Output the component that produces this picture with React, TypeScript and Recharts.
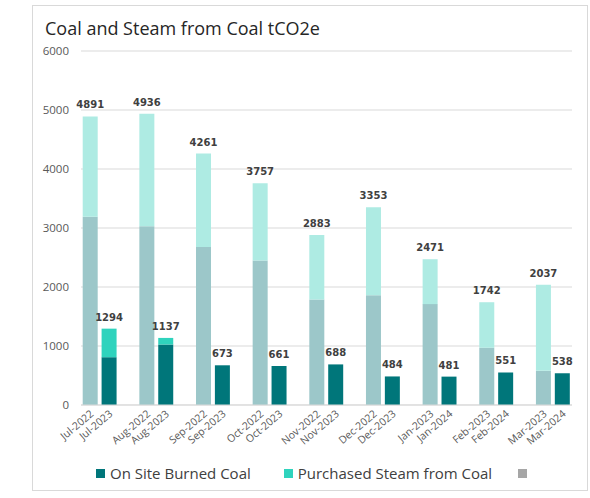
import React from 'react';
import { BarChart, Bar, XAxis, YAxis, CartesianGrid, LabelList } from 'recharts';

const priorLabels = ['Jul-2022', 'Aug-2022', 'Sep-2022', 'Oct-2022', 'Nov-2022', 'Dec-2022', 'Jan-2023', 'Feb-2023', 'Mar-2023'];
const currentLabels = ['Jul-2023', 'Aug-2023', 'Sep-2023', 'Oct-2023', 'Nov-2023', 'Dec-2023', 'Jan-2024', 'Feb-2024', 'Mar-2024'];
const priorCoal = [3190, 3030, 2680, 2450, 1790, 1860, 1710, 970, 580];
const priorTotal = [4891, 4936, 4261, 3757, 2883, 3353, 2471, 1742, 2037];
const currentCoal = [810, 1025, 673, 661, 688, 484, 481, 551, 538];
const currentTotal = [1294, 1137, 673, 661, 688, 484, 481, 551, 538];
const yTicks = [0, 1000, 2000, 3000, 4000, 5000, 6000];

const DARK = '#00767A';
const TURQ = '#2FD3BD';
const PALE_COAL = '#9CC7C9';
const PALE_STEAM = '#AEEBE3';

type Row = {
  label: string;
  priorCoal?: number;
  priorSteam?: number;
  curCoal?: number;
  curSteam?: number;
};

// one slot per bar, with an empty slot between month pairs
const rows: Row[] = [];
priorLabels.forEach((lbl, i) => {
  rows.push({ label: lbl, priorCoal: priorCoal[i], priorSteam: priorTotal[i] - priorCoal[i] });
  rows.push({ label: currentLabels[i], curCoal: currentCoal[i], curSteam: currentTotal[i] - currentCoal[i] });
  if (i < priorLabels.length - 1) rows.push({ label: '' });
});

const SlotTick = (props: any) => {
  const { x, y, payload } = props;
  if (!payload || !payload.value) return null;
  const tx = x + 4;
  const ty = y + 2;
  return (
    <text x={tx} y={ty} transform={`rotate(-40 ${tx} ${ty})`} textAnchor="end" fontSize={10.5} fill="#595959" fontFamily="Open Sans">
      {payload.value}
    </text>
  );
};

const totalText = (cx: number, top: number, value: number) => (
  <text x={cx} y={top - 8} textAnchor="middle" fontSize={10} fontWeight="bold" fill="#404040" fontFamily="DejaVu Sans">
    {value}
  </text>
);

// label list entries only cover the bars that exist in the series, so index = month
const PriorLabel = (props: any) => {
  const { x, y, width, index } = props;
  return totalText(x + width / 2, y, priorTotal[index]);
};

const CurrentLabel = (props: any) => {
  const { x, y, width, height, index } = props;
  const coal = currentCoal[index];
  const steam = currentTotal[index] - coal;
  const top = y - (coal ? (steam * height) / coal : 0);
  return totalText(x + width / 2, top, currentTotal[index]);
};

const legendItems = [
  { name: 'On Site Burned Coal', color: DARK, gap: 33 },
  { name: 'Purchased Steam from Coal', color: TURQ, gap: 26 },
  { name: '', color: '#A6A6A6', gap: 0 },
];

export default function App() {
  return (
    <div
      style={{
        position: 'absolute',
        left: 32,
        top: 5,
        width: 556,
        height: 486,
        border: '1px solid #D9D9D9',
        boxSizing: 'border-box',
        background: '#fff',
      }}
    >
      <div style={{ position: 'absolute', left: 12, top: 10, fontFamily: 'Open Sans', fontSize: 18, color: '#262626' }}>
        Coal and Steam from Coal tCO2e
      </div>
      <BarChart width={554} height={484} data={rows} margin={{ top: 45, right: 15, left: 0, bottom: 25 }} barCategoryGap={1.7}>
        <CartesianGrid vertical={false} stroke="#D9D9D9" />
        <XAxis dataKey="label" interval={0} tickLine={false} axisLine={{ stroke: '#D9D9D9' }} height={60} tick={<SlotTick />} />
        <YAxis
          width={48}
          domain={[0, 6000]}
          ticks={yTicks}
          axisLine={false}
          tickLine={false}
          tickMargin={6}
          tick={{ fontSize: 11.5, fill: '#595959', fontFamily: 'Open Sans' }}
        />
        <Bar dataKey="priorCoal" stackId="a" fill={PALE_COAL} isAnimationActive={false} />
        <Bar dataKey="priorSteam" stackId="a" fill={PALE_STEAM} isAnimationActive={false}>
          <LabelList content={<PriorLabel />} />
        </Bar>
        <Bar dataKey="curCoal" stackId="a" fill={DARK} isAnimationActive={false}>
          <LabelList content={<CurrentLabel />} />
        </Bar>
        <Bar dataKey="curSteam" stackId="a" fill={TURQ} isAnimationActive={false} />
      </BarChart>
      <div
        style={{
          position: 'absolute',
          left: 63,
          top: 457,
          display: 'flex',
          alignItems: 'center',
          fontFamily: 'Open Sans',
          fontSize: 15,
          color: '#404040',
        }}
      >
        {legendItems.map((item, i) => (
          <div key={i} style={{ display: 'flex', alignItems: 'center', marginRight: item.gap }}>
            <span style={{ display: 'inline-block', width: 9, height: 9, background: item.color, marginRight: 5 }} />
            <span>{item.name}</span>
          </div>
        ))}
      </div>
    </div>
  );
}
